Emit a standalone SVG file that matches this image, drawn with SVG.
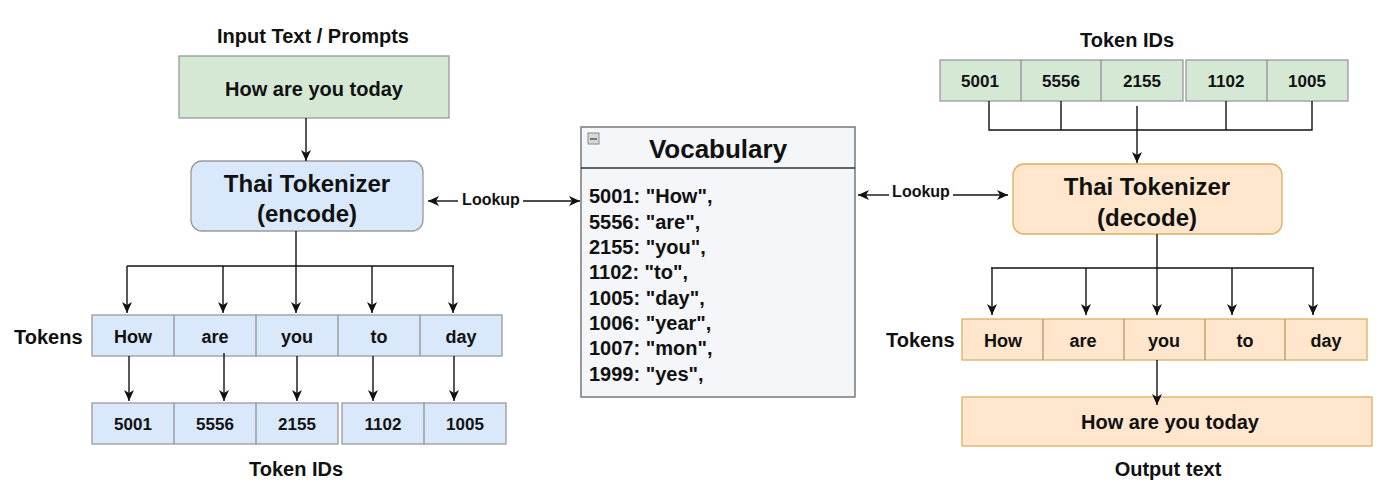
<svg xmlns="http://www.w3.org/2000/svg" width="1400" height="494" viewBox="0 0 1400 494">
<defs>
<style>
text{font-family:"Liberation Sans",Arial,sans-serif;font-weight:bold;fill:#111;}
.c{text-anchor:middle;dominant-baseline:central;}
.l{dominant-baseline:central;}
.green{fill:#d5e8d4;stroke:#9a9a9a;stroke-width:1.3;}
.blue{fill:#dae8fc;stroke:#9a9a9a;stroke-width:1.3;}
.orange{fill:#ffe6cc;stroke:#dcb062;stroke-width:1.3;}
.div{stroke:#8a8a8a;stroke-width:1.2;}
.odiv{stroke:#b09060;stroke-width:1.2;}
.edge{fill:none;stroke:#111;stroke-width:1.4;}
.arr{fill:none;stroke:#111;stroke-width:1.4;marker-end:url(#ah);}
.t20{font-size:20px;}
.t17{font-size:17px;}
.t18{font-size:18px;}
.t24{font-size:24px;}
</style>
<marker id="ah" markerUnits="userSpaceOnUse" markerWidth="12" markerHeight="10" refX="11" refY="5" orient="auto">
<path d="M0,0 L11,5 L0,10 L3,5 z" fill="#111"/>
</marker>
</defs>
<rect width="1400" height="494" fill="#ffffff"/>

<g id="input-text">
<text class="c t20" x="313" y="36">Input Text / Prompts</text>
<rect class="green" x="179" y="56" width="270" height="62"/>
<text class="c t20" x="314" y="89">How are you today</text>
</g>

<g id="encoder">
<rect class="blue" x="191" y="161" width="232" height="70" rx="11"/>
<text class="c t24" x="307" y="183">Thai Tokenizer</text>
<text class="c t24" x="307" y="213">(encode)</text>
</g>

<g id="tokens-left">
<text class="l t20" x="14" y="337">Tokens</text>
<rect class="blue" x="92" y="315" width="410" height="41"/>
<line class="div" x1="174" y1="315" x2="174" y2="356"/>
<line class="div" x1="256" y1="315" x2="256" y2="356"/>
<line class="div" x1="338" y1="315" x2="338" y2="356"/>
<line class="div" x1="420" y1="315" x2="420" y2="356"/>
<text class="c t18" x="133" y="337">How</text>
<text class="c t18" x="215" y="337">are</text>
<text class="c t18" x="297" y="337">you</text>
<text class="c t18" x="379" y="337">to</text>
<text class="c t18" x="461" y="337">day</text>
</g>

<g id="ids-left">
<rect class="blue" x="92" y="403" width="246" height="41"/>
<line class="div" x1="174" y1="403" x2="174" y2="444"/>
<line class="div" x1="256" y1="403" x2="256" y2="444"/>
<rect class="blue" x="342" y="403" width="164" height="41"/>
<line class="div" x1="424" y1="403" x2="424" y2="444"/>
<text class="c t17" x="133" y="424">5001</text>
<text class="c t17" x="215" y="424">5556</text>
<text class="c t17" x="297" y="424">2155</text>
<text class="c t17" x="383" y="424">1102</text>
<text class="c t17" x="465" y="424">1005</text>
<text class="c t20" x="296" y="469">Token IDs</text>
</g>

<g id="vocabulary">
<rect x="581" y="127" width="274" height="270" fill="#f4f6f9" stroke="#6f6f6f" stroke-width="1.4"/>
<line x1="581" y1="168" x2="855" y2="168" stroke="#333" stroke-width="1.3"/>
<rect x="588" y="133" width="11" height="11" fill="#d8d8d8" stroke="#888" stroke-width="1"/>
<line x1="590" y1="139" x2="597" y2="139" stroke="#555" stroke-width="1.5"/>
<text class="c" x="718" y="149" font-size="26">Vocabulary</text>
<text class="l t20" x="589" y="196">5001: "How",</text>
<text class="l t20" x="589" y="221.5">5556: "are",</text>
<text class="l t20" x="589" y="247">2155: "you",</text>
<text class="l t20" x="589" y="272">1102: "to",</text>
<text class="l t20" x="589" y="297.5">1005: "day",</text>
<text class="l t20" x="589" y="323">1006: "year",</text>
<text class="l t20" x="589" y="348">1007: "mon",</text>
<text class="l t20" x="589" y="373.5">1999: "yes",</text>
</g>

<g id="ids-right">
<text class="c t20" x="1127" y="40">Token IDs</text>
<rect class="green" x="940" y="60" width="243" height="41"/>
<line class="div" x1="1021" y1="60" x2="1021" y2="101"/>
<line class="div" x1="1101" y1="60" x2="1101" y2="101"/>
<rect class="green" x="1186" y="60" width="162" height="41"/>
<line class="div" x1="1267" y1="60" x2="1267" y2="101"/>
<text class="c t17" x="980" y="81">5001</text>
<text class="c t17" x="1061" y="81">5556</text>
<text class="c t17" x="1142" y="81">2155</text>
<text class="c t17" x="1226" y="81">1102</text>
<text class="c t17" x="1307" y="81">1005</text>
</g>

<g id="decoder">
<rect class="orange" x="1013" y="164" width="269" height="70" rx="11"/>
<text class="c t24" x="1147" y="186">Thai Tokenizer</text>
<text class="c t24" x="1147" y="217">(decode)</text>
</g>

<g id="tokens-right">
<text class="l t20" x="886" y="340">Tokens</text>
<rect class="orange" x="962" y="319" width="405" height="41"/>
<line class="odiv" x1="1043" y1="319" x2="1043" y2="360"/>
<line class="odiv" x1="1124" y1="319" x2="1124" y2="360"/>
<line class="odiv" x1="1205" y1="319" x2="1205" y2="360"/>
<line class="odiv" x1="1285" y1="319" x2="1285" y2="360"/>
<text class="c t18" x="1003" y="341">How</text>
<text class="c t18" x="1083" y="341">are</text>
<text class="c t18" x="1164" y="341">you</text>
<text class="c t18" x="1245" y="341">to</text>
<text class="c t18" x="1326" y="341">day</text>
</g>

<g id="output-text">
<rect class="orange" x="962" y="397" width="410" height="49"/>
<text class="c t20" x="1170" y="422">How are you today</text>
<text class="c t20" x="1168" y="469">Output text</text>
</g>

<g id="connectors">
<line class="arr" x1="306" y1="118" x2="306" y2="161"/>
<!-- lookup left -->
<line class="arr" x1="458" y1="201" x2="428" y2="201"/>
<line class="arr" x1="523" y1="201" x2="580" y2="201"/>
<text class="c" x="491" y="199" font-size="16">Lookup</text>
<!-- lookup right -->
<line class="arr" x1="889" y1="195" x2="858" y2="195"/>
<line class="arr" x1="953" y1="195" x2="1008" y2="195"/>
<text class="c" x="921" y="191" font-size="16">Lookup</text>
<!-- encoder fan-out -->
<path class="edge" d="M296,231 V266 M127,266 H454"/>
<line class="arr" x1="127" y1="266" x2="127" y2="313"/>
<line class="arr" x1="223" y1="266" x2="223" y2="313"/>
<line class="arr" x1="296" y1="266" x2="296" y2="313"/>
<line class="arr" x1="372" y1="266" x2="372" y2="313"/>
<line class="arr" x1="453" y1="266" x2="453" y2="313"/>
<!-- tokens to ids -->
<line class="arr" x1="129" y1="356" x2="129" y2="401"/>
<line class="arr" x1="224" y1="353" x2="224" y2="401"/>
<line class="arr" x1="297" y1="356" x2="297" y2="401"/>
<line class="arr" x1="373" y1="356" x2="373" y2="401"/>
<line class="arr" x1="454" y1="356" x2="454" y2="401"/>
<!-- ids right to decoder -->
<path class="edge" d="M989,101 V130 H1312 V101 M1061,101 V130 M1226,101 V130"/>
<line class="arr" x1="1137" y1="106" x2="1137" y2="163"/>
<!-- decoder fan-out -->
<path class="edge" d="M1157,234 V268 M991,268 H1314"/>
<line class="arr" x1="992" y1="268" x2="992" y2="315"/>
<line class="arr" x1="1086" y1="268" x2="1086" y2="315"/>
<line class="arr" x1="1157" y1="268" x2="1157" y2="315"/>
<line class="arr" x1="1232" y1="268" x2="1232" y2="315"/>
<line class="arr" x1="1313" y1="268" x2="1313" y2="315"/>
<line class="arr" x1="1157" y1="360" x2="1157" y2="405"/>
</g>
</svg>
